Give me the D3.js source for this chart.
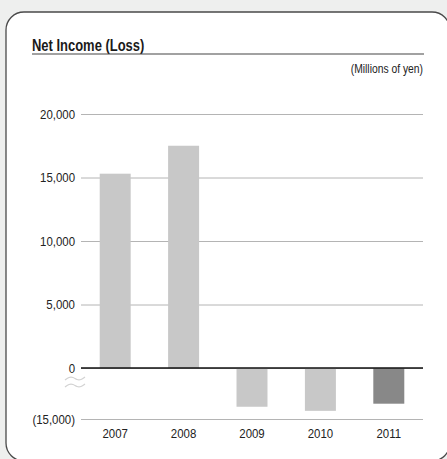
<!DOCTYPE html>
<html>
<head>
<meta charset="utf-8">
<script src="https://cdn.jsdelivr.net/npm/d3@7"></script>
<style>
  html, body { margin: 0; padding: 0; background: #eeefee; }
  svg { display: block; }
  text { font-family: "Liberation Sans", Arial, sans-serif; fill: #222; }
</style>
</head>
<body>
<svg id="chart" width="447" height="459"></svg>
<script>
// Net income (loss) by fiscal year, millions of yen
const years = ["2007", "2008", "2009", "2010", "2011"];
const netIncome = [15300, 17500, -11400, -12600, -10500];
const highlightYear = "2011";
const tickValues = [-15000, 0, 5000, 10000, 15000, 20000];

const title = "Net Income (Loss)";
const unitLabel = "(Millions of yen)";

const svg = d3.select("#chart");

// Squeeze text horizontally to mimic a condensed face
function condense(sel, factor) {
  sel.each(function () {
    const w = this.getComputedTextLength();
    d3.select(this)
      .attr("textLength", w * factor)
      .attr("lengthAdjust", "spacingAndGlyphs");
  });
}

// Card background with rounded corners
svg.append("rect")
  .attr("x", 6).attr("y", 12)
  .attr("width", 444).attr("height", 449)
  .attr("rx", 18).attr("ry", 18)
  .attr("fill", "#ffffff")
  .attr("stroke", "#4a4a4a")
  .attr("stroke-width", 1.3);

// Title and rule
svg.append("text")
  .attr("x", 32).attr("y", 50.5)
  .attr("font-size", 16)
  .attr("font-weight", "bold")
  .style("fill", "#1a1a1a")
  .text(title)
  .call(condense, 0.81);

svg.append("line")
  .attr("x1", 32).attr("x2", 424)
  .attr("y1", 54).attr("y2", 54)
  .attr("stroke", "#444")
  .attr("stroke-width", 1.2);

svg.append("text")
  .attr("x", 423).attr("y", 73)
  .attr("text-anchor", "end")
  .attr("font-size", 12)
  .text(unitLabel)
  .call(condense, 0.86);

// Scales: the axis is broken below zero, so the negative range is compressed
const left = 81, right = 423;
const x = d3.scaleBand()
  .domain(years)
  .range([left, right])
  .paddingInner(0.547)
  .paddingOuter(0.2735);

const y = d3.scaleLinear()
  .domain([-15000, 0, 20000])
  .range([419, 368, 114]);

const fmt = v => v < 0 ? "(" + d3.format(",")(-v) + ")" : d3.format(",")(v);

// Gridlines and tick labels
const yAxis = d3.axisLeft(y)
  .tickValues(tickValues)
  .tickSize(-(right - left))
  .tickPadding(6)
  .tickFormat(fmt);

const axisG = svg.append("g")
  .attr("transform", `translate(${left},0)`)
  .call(yAxis);
axisG.attr("font-family", null).attr("font-size", null);
axisG.select(".domain").remove();
axisG.selectAll(".tick line")
  .attr("stroke", "#b4b4b4")
  .attr("stroke-width", 1);
axisG.selectAll(".tick text")
  .attr("font-size", 13)
  .call(condense, 0.88);

// Bars
svg.append("g")
  .selectAll("rect")
  .data(years.map((yr, i) => ({ year: yr, value: netIncome[i] })))
  .join("rect")
  .attr("x", d => x(d.year))
  .attr("width", x.bandwidth())
  .attr("y", d => y(Math.max(0, d.value)))
  .attr("height", d => Math.abs(y(d.value) - y(0)))
  .attr("fill", d => d.year === highlightYear ? "#888888" : "#c8c8c8");

// Zero baseline
svg.append("line")
  .attr("x1", left).attr("x2", right)
  .attr("y1", y(0)).attr("y2", y(0))
  .attr("stroke", "#111")
  .attr("stroke-width", 1.3);

// Axis break mark (two small waves)
const wave = d3.line().curve(d3.curveBasis);
[0, 7].forEach(dy => {
  const y0 = 378.5 + dy;
  const pts = [[65, y0 + 1.5], [69, y0 - 1.5], [73, y0 - 1.5], [77, y0 + 1.5], [81, y0 + 1.5], [85, y0 - 1.5]];
  svg.append("path")
    .attr("d", wave(pts))
    .attr("fill", "none")
    .attr("stroke", "#d2d2d2")
    .attr("stroke-width", 1.2);
});

// Year labels
svg.append("g")
  .selectAll("text")
  .data(years)
  .join("text")
  .attr("x", d => x(d) + x.bandwidth() / 2)
  .attr("y", 438)
  .attr("text-anchor", "middle")
  .attr("font-size", 13)
  .text(d => d)
  .call(condense, 0.88);
</script>
</body>
</html>
